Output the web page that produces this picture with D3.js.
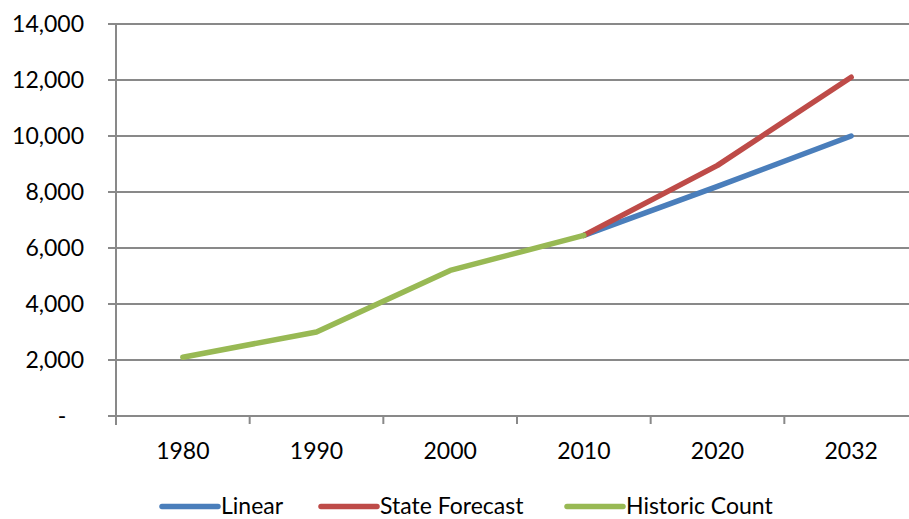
<!DOCTYPE html>
<html>
<head>
<meta charset="utf-8">
<script src="https://cdn.jsdelivr.net/npm/d3@7/dist/d3.min.js"></script>
<style>
  html, body { margin: 0; padding: 0; background: #ffffff; }
  svg { display: block; }
  text { font-family: Lato, "Open Sans", sans-serif; fill: #000; }
</style>
</head>
<body>
<svg id="chart" width="909" height="519"></svg>
<script>
// Population counts and projections by year
const categories = ["1980", "1990", "2000", "2010", "2020", "2032"];
const linearValues   = [null, null, null, 6450, 8200, 10000];
const stateForecast  = [null, null, null, 6450, 8950, 12100];
const historicCount  = [2100, 3000, 5200, 6450, null, null];
const yTicks = [0, 2000, 4000, 6000, 8000, 10000, 12000, 14000];

const seriesNames  = ["Linear", "State Forecast", "Historic Count"];
const seriesColors = ["#4a7ebb", "#be4b48", "#98b954"];
const seriesValues = [linearValues, stateForecast, historicCount];

const svg = d3.select("#chart");
const plot = { left: 116, right: 918, top: 24, bottom: 416 };
const fontSize = 23;

const x = d3.scaleBand().domain(categories).range([plot.left, plot.right]);
const y = d3.scaleLinear().domain([0, 14000]).range([plot.bottom, plot.top]);

const gridColor = "#898989";

// Horizontal gridlines with tick stubs to the left of the axis
svg.append("g")
  .selectAll("line")
  .data(yTicks)
  .join("line")
  .attr("x1", plot.left - 8)
  .attr("x2", plot.right)
  .attr("y1", d => y(d))
  .attr("y2", d => y(d))
  .attr("stroke", gridColor)
  .attr("stroke-width", 2);

// Value axis
const yAxis = d3.axisLeft(y)
  .tickValues(yTicks)
  .tickSize(0)
  .tickPadding(32)
  .tickFormat(d => d === 0 ? "-\u00A0\u00A0\u00A0" : d3.format(",")(d));
const gy = svg.append("g")
  .attr("transform", `translate(${plot.left},0)`)
  .call(yAxis);
gy.select(".domain").remove();
gy.selectAll("text")
  .style("font-size", fontSize + "px")
  .style("font-family", "Lato, sans-serif")
  .attr("fill", "#000");

// Vertical axis line
svg.append("line")
  .attr("x1", plot.left).attr("x2", plot.left)
  .attr("y1", plot.top - 1).attr("y2", plot.bottom + 9)
  .attr("stroke", gridColor)
  .attr("stroke-width", 2);

// Category axis: ticks sit between categories
const bounds = categories.map(c => x(c)).concat([x.range()[1]]);
svg.append("g")
  .selectAll("line")
  .data(bounds)
  .join("line")
  .attr("x1", d => d).attr("x2", d => d)
  .attr("y1", plot.bottom).attr("y2", plot.bottom + 8)
  .attr("stroke", gridColor)
  .attr("stroke-width", 2);

svg.append("g")
  .selectAll("text")
  .data(categories)
  .join("text")
  .attr("x", d => x(d) + x.bandwidth() / 2)
  .attr("y", 459)
  .attr("text-anchor", "middle")
  .style("font-size", fontSize + "px")
  .text(d => d);

// Series lines
const line = d3.line()
  .defined(d => d.v !== null)
  .x(d => x(d.c) + x.bandwidth() / 2)
  .y(d => y(d.v));

seriesValues.forEach((vals, i) => {
  const pts = categories.map((c, j) => ({ c, v: vals[j] }));
  svg.append("path")
    .datum(pts)
    .attr("d", line)
    .attr("fill", "none")
    .attr("stroke", seriesColors[i])
    .attr("stroke-width", 5.5)
    .attr("stroke-linecap", "round")
    .attr("stroke-linejoin", "round");
});

// Legend
const legendStarts = [162, 321, 567];
const legend = svg.append("g");
seriesNames.forEach((name, i) => {
  const gx = legendStarts[i];
  legend.append("line")
    .attr("x1", gx).attr("x2", gx + 56)
    .attr("y1", 506.5).attr("y2", 506.5)
    .attr("stroke", seriesColors[i])
    .attr("stroke-width", 5.5)
    .attr("stroke-linecap", "round");
  legend.append("text")
    .attr("x", gx + 59)
    .attr("y", 514)
    .style("font-size", fontSize + "px")
    .text(name);
});
</script>
</body>
</html>
